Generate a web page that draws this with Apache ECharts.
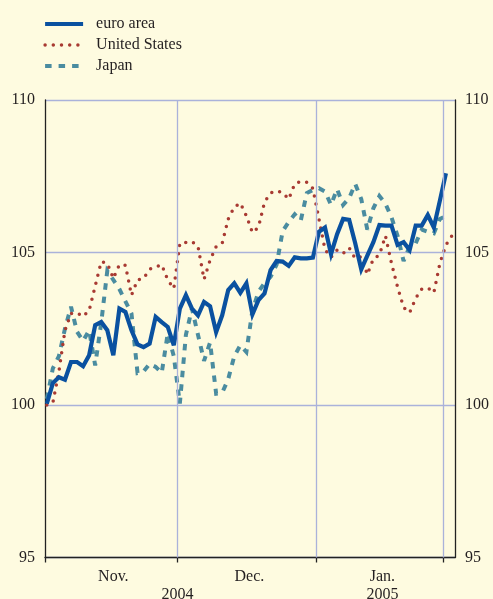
<!DOCTYPE html>
<html><head><meta charset="utf-8">
<script src="https://cdn.jsdelivr.net/npm/echarts@6/dist/echarts.min.js"></script>
<style>html,body{margin:0;padding:0;background:#fefbe0;}#c{width:493px;height:599px;}</style>
</head><body><div id="c"></div>
<script>
// business-day index 0 = 1 Nov 2004
const euroArea = [100.04,100.72,100.91,100.83,101.41,101.41,101.27,101.63,102.62,102.72,
  102.45,101.63,103.16,103.05,102.45,101.99,101.9,102.01,102.89,102.72,
  102.56,101.96,103.16,103.6,103.16,102.94,103.38,103.24,102.39,102.94,
  103.77,103.99,103.68,103.99,102.97,103.44,103.66,104.42,104.72,104.70,
  104.56,104.84,104.81,104.81,104.83,105.68,105.82,104.95,105.6,106.1,
  106.07,105.3,104.45,104.9,105.34,105.9,105.88,105.88,105.25,105.34,
  105.08,105.88,105.88,106.23,105.82,106.7,107.6];
const unitedStates = [100.0,100.07,101.1,102.45,103.0,103.02,102.9,103.1,103.9,104.7,
  104.65,104.15,104.6,104.58,103.6,104.1,104.15,104.45,104.53,104.6,
  104.1,103.82,105.3,105.33,105.36,105.2,104.12,104.75,105.19,105.3,
  106.1,106.49,106.62,106.2,105.65,105.83,106.65,106.95,107.02,106.97,
  106.75,107.25,107.33,107.3,107.1,106.1,105.1,104.84,105.08,104.97,
  105.15,104.8,104.86,104.28,104.79,104.92,105.55,104.65,103.87,103.2,
  103.03,103.5,103.8,103.84,103.68,104.65,105.25,105.55];
const japan = [100.2,101.2,101.6,102.5,103.22,102.4,102.1,102.45,101.3,102.7,
  104.4,104.1,103.8,103.4,103.0,101.05,101.1,101.35,101.25,101.05,
  102.35,101.6,100.05,102.3,103.16,102.3,101.45,102.05,100.37,100.4,
  100.85,101.6,101.96,101.74,103.1,103.71,104.0,104.2,104.6,105.7,
  106.0,106.25,106.05,106.95,107.05,107.11,107.0,106.56,107.08,106.56,
  106.78,107.25,106.75,105.75,106.45,106.85,106.6,106.15,105.55,104.72,
  105.2,105.3,105.75,105.68,105.63,106.1,106.2];
const seriesNames = ['euro area','United States','Japan'];
const monthLabels = ['Nov.','Dec.','Jan.'];
const monthLabelAt = [11, 33.5, 55.5];
const yearLabels = ['2004','2005'];
const yearLabelAt = [21.6, 55.5];
const monthBoundaries = [21.5, 44.5, 65.5];
const xMin = -0.3, xMax = 67.5;

const toPairs = arr => arr.map((v, i) => [i, v]);
const font = 'Liberation Serif';
const txt = '#231f20';
const gridCol = '#aab2da';
const euroCol = '#0a51a0', usCol = '#a83a32', jpCol = '#4a8ca0';
const euroLine = { color: euroCol, width: 4.2, type: 'solid', join: 'miter', miterLimit: 4 };
const usLine = { color: usCol, width: 3.5, type: [0, 8.2], cap: 'round', join: 'round' };
const jpLine = { color: jpCol, width: 4, type: [6.5, 7], cap: 'butt', join: 'miter', miterLimit: 3 };

const chart = echarts.init(document.getElementById('c'));
const yAxisBase = {
  type: 'value', min: 95, max: 110, interval: 5,
  axisLine: { show: true, onZero: false, lineStyle: { color: '#222', width: 1.3 } },
  axisTick: { show: false },
  axisLabel: { fontFamily: font, fontSize: 16, color: txt, margin: 10 }
};
chart.setOption({
  backgroundColor: '#fefbe0',
  animation: false,
  grid: { left: 45, right: 38, top: 100, bottom: 41.5, containLabel: false, outerBoundsMode: 'none' },
  legend: {
    data: [
      { name: seriesNames[0], lineStyle: euroLine },
      { name: seriesNames[1], lineStyle: usLine },
      { name: seriesNames[2], lineStyle: jpLine }
    ],
    orient: 'vertical', left: 43, top: 16, padding: 0,
    itemWidth: 38, itemHeight: 14, itemGap: 5,
    itemStyle: { opacity: 0 },
    textStyle: { fontFamily: font, fontSize: 16, color: txt, padding: [0, 0, 0, 8] }
  },
  xAxis: [{
    type: 'value', min: xMin, max: xMax,
    axisLine: { show: true, onZero: false, lineStyle: { color: '#222', width: 1.3 } },
    axisTick: { show: true, inside: false, length: 5, customValues: [xMin].concat(monthBoundaries), lineStyle: { color: '#222', width: 1.3 } },
    splitLine: { show: false },
    axisLabel: {
      customValues: monthLabelAt, margin: 11, fontFamily: font, fontSize: 16, color: txt,
      formatter: v => { const k = monthLabelAt.indexOf(v); return k >= 0 ? monthLabels[k] : ''; }
    }
  }, {
    type: 'value', min: xMin, max: xMax, position: 'bottom',
    axisLine: { show: false, onZero: false }, axisTick: { show: false }, splitLine: { show: false },
    axisLabel: {
      customValues: yearLabelAt, margin: 29, fontFamily: font, fontSize: 16, color: txt,
      formatter: v => { const k = yearLabelAt.indexOf(v); return k >= 0 ? yearLabels[k] : ''; }
    }
  }],
  yAxis: [
    Object.assign({}, yAxisBase, { position: 'left', splitLine: { show: true, lineStyle: { color: gridCol, width: 1.3 } } }),
    Object.assign({}, yAxisBase, { position: 'right', splitLine: { show: false } })
  ],
  series: [
    {
      type: 'line', data: [], z: 1, silent: true,
      markLine: {
        silent: true, symbol: ['none', 'none'], label: { show: false },
        lineStyle: { color: gridCol, width: 1.3, type: 'solid' },
        emphasis: { disabled: true },
        data: monthBoundaries.map(b => ({ xAxis: b }))
      }
    },
    {
      name: 'Japan', type: 'line', data: toPairs(japan), z: 2,
      showSymbol: false, symbol: 'none', color: jpCol, lineStyle: jpLine
    },
    {
      name: 'United States', type: 'line', data: toPairs(unitedStates), z: 3,
      showSymbol: false, symbol: 'none', color: usCol, lineStyle: usLine
    },
    {
      name: 'euro area', type: 'line', data: toPairs(euroArea), z: 4,
      showSymbol: false, symbol: 'none', color: euroCol, lineStyle: euroLine
    }
  ]
});
</script></body></html>
